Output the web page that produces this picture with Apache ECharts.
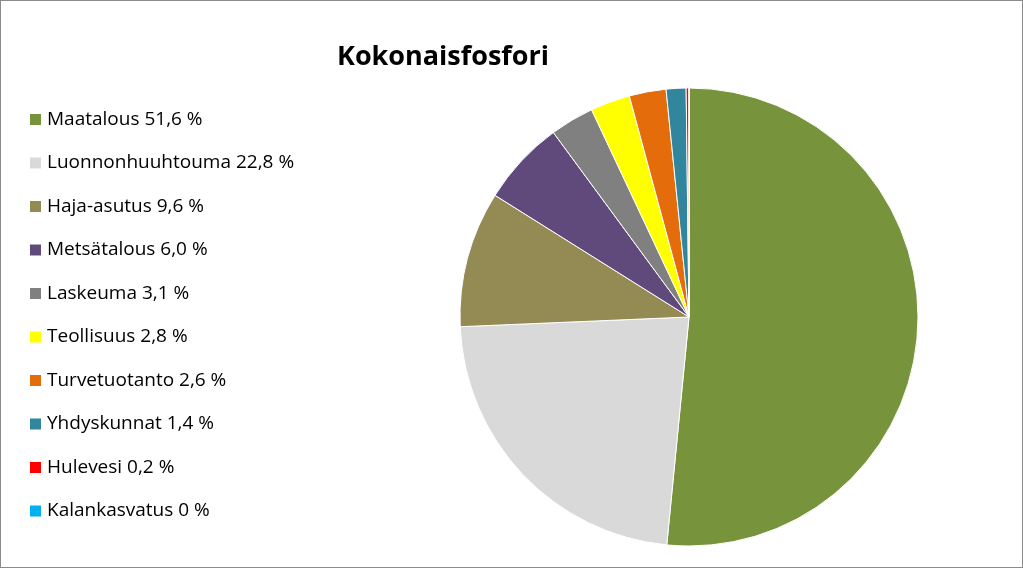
<!DOCTYPE html>
<html><head><meta charset="utf-8">
<script src="https://cdn.jsdelivr.net/npm/echarts@6/dist/echarts.min.js"></script>
<style>html,body{margin:0;padding:0;background:#fff}#c{width:1023px;height:568px;box-sizing:border-box;border:1px solid #8c8c8c}</style>
</head><body><div id="c"></div>
<script>
const categories = ['Maatalous','Luonnonhuuhtouma','Haja-asutus','Metsätalous','Laskeuma','Teollisuus','Turvetuotanto','Yhdyskunnat','Hulevesi','Kalankasvatus'];
const labels = ['51,6','22,8','9,6','6,0','3,1','2,8','2,6','1,4','0,2','0'];
const values = [51.6,22.8,9.6,6.0,3.1,2.8,2.6,1.4,0.2,0];
const colors = ['#77933C','#D9D9D9','#948A54','#604A7B','#808080','#FFFF00','#E46C0A','#31859C','#FF0000','#00B0F0'];
const chart = echarts.init(document.getElementById('c'));
chart.setOption({
  animation:false,
  color:colors,
  title:{text:'Kokonaisfosfori',left:437,top:38,textAlign:'center',textStyle:{fontFamily:'Open Sans',fontWeight:'bold',fontSize:27,color:'#000'}},
  legend:{orient:'vertical',left:22,top:104,itemWidth:13,itemHeight:13,itemGap:24.5,icon:'rect',
    textStyle:{fontFamily:'Open Sans',fontSize:19,color:'#000'},
    formatter:n=>n+' '+labels[categories.indexOf(n)]+' %'},
  series:[{type:'pie',center:[688,316],radius:[0,229],startAngle:90,clockwise:true,
    label:{show:false},labelLine:{show:false},minShowLabelAngle:0,
    itemStyle:{borderColor:'#fff',borderWidth:1},
    data:categories.map((c,i)=>({name:c,value:values[i]}))}]
});
</script></body></html>
